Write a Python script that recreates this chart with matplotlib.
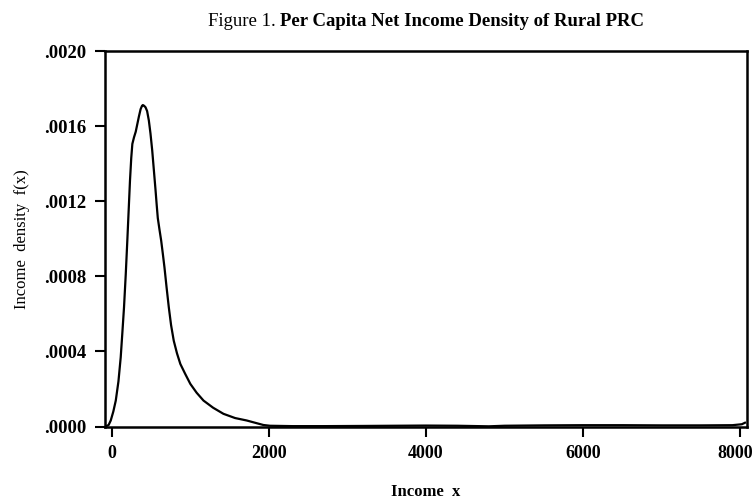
import numpy as np
import matplotlib
matplotlib.use('Agg')
from matplotlib import pyplot as plt
from matplotlib.transforms import ScaledTranslation

# values
income_x = [-80, -40, -13, 20, 51, 85, 114, 135, 156, 178, 198, 215, 232, 248, 262, 283, 305,
            325, 345, 367, 385, 396, 412, 430, 450, 472, 493, 515, 535, 557, 572, 586, 607,
            629, 650, 671, 698, 726, 755, 789, 830, 873, 935, 1000, 1080, 1168, 1290, 1422,
            1570, 1718, 1844, 1930, 2013, 2300, 2700, 3200, 3600, 4000, 4400, 4800, 5000,
            5500, 6000, 6500, 7000, 7500, 7900, 8020, 8060]
density = [0.0, 0.000008, 0.000032, 0.00008, 0.000138, 0.00024, 0.000369, 0.0005, 0.000635,
           0.00081, 0.00099, 0.00115, 0.00131, 0.00143, 0.001505, 0.00154, 0.00157,
           0.00161, 0.00165, 0.00169, 0.001708, 0.001712, 0.001708, 0.0017, 0.00168,
           0.00163, 0.00156, 0.00147, 0.00137, 0.00126, 0.00118, 0.00111, 0.00105,
           0.00099, 0.00092, 0.000847, 0.00074, 0.000635, 0.00054, 0.000457, 0.00039,
           0.000333, 0.00028, 0.000227, 0.00018, 0.000138, 0.0001, 0.0000675,
           0.000045, 0.000032, 0.0000177, 0.000008, 0.000004, 0.000002, 0.000002,
           0.000003, 0.000004, 0.000005, 0.000004, 0.000001, 0.000004, 0.000006,
           0.000007, 0.000007, 0.000006, 0.000006, 0.000007, 0.000012, 0.00002]

y_ticks = [0.0, 0.0004, 0.0008, 0.0012, 0.0016, 0.0020]
y_ticklabels = ['.0000', '.0004', '.0008', '.0012', '.0016', '.0020']
x_ticks = [0, 2000, 4000, 6000, 8000]

plt.rcParams['font.family'] = ['Liberation Serif', 'DejaVu Serif']

fig = plt.figure(figsize=(7.56, 5.0), dpi=100)
ax = fig.add_axes([0.139, 0.147, 0.849, 0.751])

ax.plot(income_x, density, color='black', lw=1.6, solid_joinstyle='round')

ax.set_xlim(-85, 8085)
ax.set_ylim(0, 0.002)
ax.set_xticks(x_ticks)
ax.set_xticklabels([str(v) for v in x_ticks])
ax.set_yticks(y_ticks)
ax.set_yticklabels(y_ticklabels)

for s in ax.spines.values():
    s.set_linewidth(1.8)
ax.tick_params(direction='out', length=7.5, width=1.5, labelsize=13.5, pad=6)
ax.tick_params(axis='x', labelsize=13)
for lab in ax.get_xticklabels() + ax.get_yticklabels():
    lab.set_fontweight('bold')

# last x label sits right at the figure edge, nudge it in a little
last = ax.get_xticklabels()[-1]
last.set_transform(last.get_transform() + ScaledTranslation(-4 / 72, 0, fig.dpi_scale_trans))

ax.set_xlabel('Income  x', fontsize=12, fontweight='bold', labelpad=16)
ax.set_ylabel('Income  density  f(x)', fontsize=12, labelpad=10)

# title: plain "Figure 1." followed by the bold part
t1 = fig.text(0.275, 0.947, 'Figure 1. ', fontsize=13.5, ha='left', va='baseline')
ax.annotate('Per Capita Net Income Density of Rural PRC', xy=(1, 0), xycoords=t1,
            fontsize=13.5, fontweight='bold', ha='left', va='bottom',
            annotation_clip=False)

fig.savefig('out.png', dpi=100)
